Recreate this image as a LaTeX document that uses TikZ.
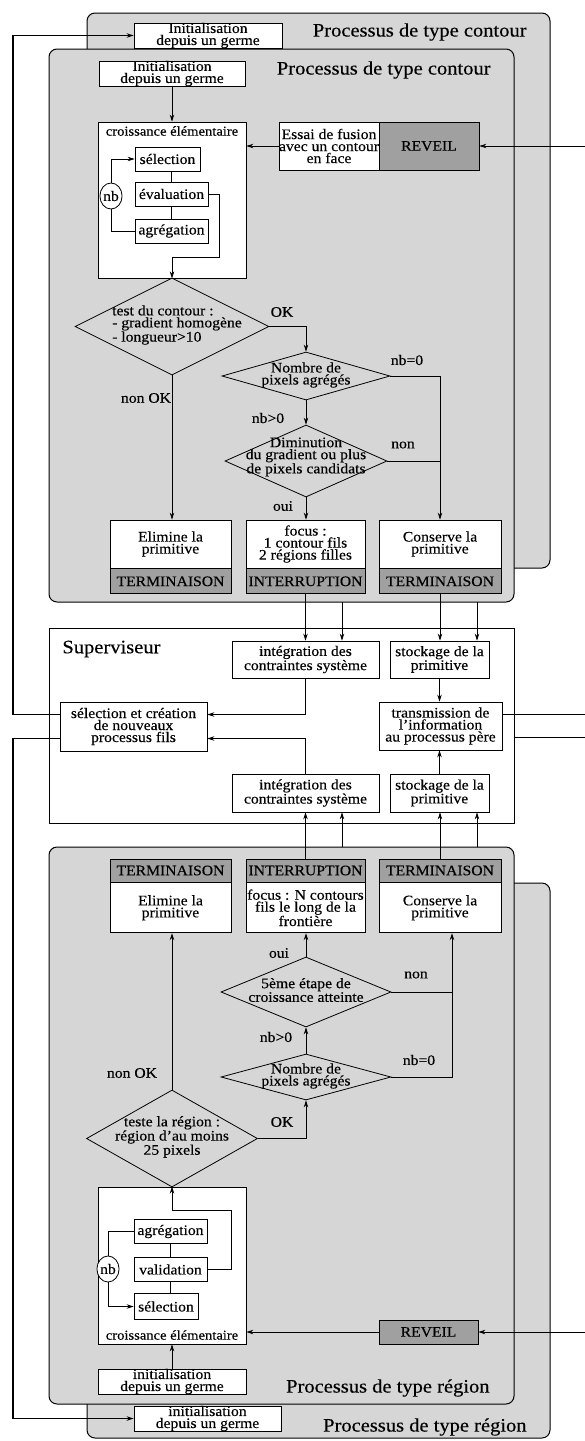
\documentclass[tikz,border=0pt]{standalone}
\usepackage{fontspec}
\setmainfont{Liberation Serif}[FakeStretch=1.08, FakeBold=0.3]
\usepackage{tikz}
\usetikzlibrary{shapes.geometric, arrows.meta, positioning, calc}
\definecolor{fondpanneau}{HTML}{D6D6D6}
\definecolor{fondsombre}{HTML}{A0A0A0}
\newcommand{\policeboite}{\fontsize{14.5}{12}\selectfont}
\newcommand{\policetitre}{\fontsize{19}{22}\selectfont}

\begin{document}
\begin{tikzpicture}[x=1pt, y=-1pt, line width=0.8pt,
    panneau/.style={draw, fill=fondpanneau, rounded corners=8pt, line width=1pt},
    boite/.style={draw, fill=white, font=\policeboite, align=center, inner sep=0pt},
    bande/.style={boite, fill=fondsombre},
    losange/.style={diamond, draw, inner sep=0pt},
    texte/.style={font=\policeboite, align=center, inner sep=0pt},
    titre/.style={font=\policetitre, inner sep=0pt, anchor=east},
    compteur/.style={ellipse, draw, fill=white, inner sep=0pt, minimum width=19, minimum height=26, font=\policeboite},
    fleche/.style={-{Stealth[length=7pt,width=4.5pt]}}]
    \useasboundingbox (0,0) rectangle (585,1441);

    % Processus contour (arriere-plan)
    \draw[panneau] (87,13) rectangle (550,568);
    \node[boite, minimum width=148, minimum height=25] (initArC) at (208,35.5) {Initialisation\\depuis un germe};
    \node[titre] (titreArC) at (527,32) {Processus de type contour};

    % Processus contour
    \draw[panneau] (49,49) rectangle (514,602);
    \node[titre] (titreC) at (491,70) {Processus de type contour};
    \node[boite, minimum width=146, minimum height=25] (initC) at (172,73.5) {Initialisation\\depuis un germe};
    \node[boite, minimum width=148, minimum height=156] (croisC) at (172,200) {};
    \node[texte, font=\fontsize{13.5}{13}\selectfont] (nomCroisC) at (172,131) {croissance élémentaire};
    \node[boite, minimum width=65, minimum height=24] (selC) at (167.5,159) {sélection};
    \node[boite, minimum width=73, minimum height=24] (evalC) at (171.5,194) {évaluation};
    \node[boite, minimum width=73, minimum height=24] (aggC) at (171.5,231) {agrégation};
    \node[compteur] (nbC) at (111,196) {nb};
    \node[boite, minimum width=100, minimum height=48] (essaiC) at (329,146) {Essai de fusion\\avec un contour\\en face};
    \node[bande, minimum width=100, minimum height=48] (reveilC) at (429,146) {REVEIL};

    \draw[fleche] (initC.south) -- (croisC.north);
    \draw[fleche] (nbC.north) |- (selC.west);
    \draw (nbC.south) |- (aggC.west);
    \draw (evalC.north) -- (evalC.north |- selC.south);
    \draw (evalC.south) -- (aggC.north);
    \coordinate (retourC) at (219,257);
    \draw[fleche] (evalC.east) -| (retourC) -| (croisC.south);
    \coordinate (entreeC) at (585,146);
    \draw[fleche] (entreeC) -- (reveilC.east);
    \draw[fleche] (essaiC.west) -- (essaiC.west -| croisC.east);

    % Tests
    \node[losange, minimum width=194, minimum height=97] (testC) at (172,326.5) {};
    \node[texte, align=left] (txtTestC) at (177,325) {test du contour :\\- gradient homogène\\- longueur>10};
    \node[losange, minimum width=168, minimum height=48] (nbAggC) at (306,376) {};
    \node[texte] (txtNbAggC) at (306,375) {Nombre de\\pixels agrégés};
    \node[losange, minimum width=162, minimum height=72] (dimC) at (306,461) {};
    \node[texte] (txtDimC) at (306,457) {Diminution\\du gradient ou plus\\de pixels candidats};
    \node[texte] (okC) at (282,312) {OK};
    \node[texte] (nonOkC) at (146,398) {non OK};
    \node[texte] (nbZeroC) at (407,360) {nb=0};
    \node[texte] (nbPosC) at (268,418) {nb>0};
    \node[texte] (nonC) at (403,445) {non};
    \node[texte] (ouiC) at (283,506) {oui};

    % Issues
    \node[boite, minimum width=121, minimum height=48] (elimC) at (170.5,544) {Elimine la\\primitive};
    \node[bande, minimum width=121, minimum height=25, anchor=north] (termC1) at (elimC.south) {TERMINAISON};
    \node[boite, minimum width=119, minimum height=48] (focusC) at (305.5,544) {focus :\\1 contour fils\\2 régions filles};
    \node[bande, minimum width=119, minimum height=25, anchor=north] (interC) at (focusC.south) {INTERRUPTION};
    \node[boite, minimum width=122, minimum height=48] (consC) at (440,544) {Conserve la\\primitive};
    \node[bande, minimum width=122, minimum height=25, anchor=north] (termC2) at (consC.south) {TERMINAISON};

    \draw[fleche] (testC.south) -- (testC.south |- elimC.north);
    \draw[fleche] (testC.east) -| (nbAggC.north);
    \draw[fleche] (nbAggC.south) -- (dimC.north);
    \draw[fleche] (dimC.south) -- (dimC.south |- focusC.north);
    \draw[fleche] (nbAggC.east) -| (consC.north);
    \draw (dimC.east) -- (dimC.east -| consC.north);

    % Superviseur
    \node[draw, fill=white, minimum width=465, minimum height=195, inner sep=0pt] (superv) at (281.5,725.5) {};
    \node[font=\policetitre, inner sep=0pt, anchor=west] (nomSuperv) at (62,649) {Superviseur};
    \node[boite, minimum width=147, minimum height=37] (integC) at (305.5,659.5) {intégration des\\contraintes système};
    \node[boite, minimum width=99, minimum height=37] (stockC) at (439.5,659.5) {stockage de la\\primitive};
    \node[boite, minimum width=147, minimum height=49] (selCrea) at (133.5,726.5) {sélection et création\\de nouveaux\\processus fils};
    \node[boite, minimum width=123, minimum height=48] (transm) at (440.5,726) {transmission de\\l'information\\au processus père};
    \node[boite, minimum width=147, minimum height=38] (integR) at (305.5,793) {intégration des\\contraintes système};
    \node[boite, minimum width=99, minimum height=38] (stockR) at (439.5,793) {stockage de la\\primitive};

    \coordinate (sortieC1) at (342,602);
    \coordinate (sortieC2) at (477,602);
    \draw[fleche] (interC.south) -- (interC.south |- integC.north);
    \draw[fleche] (sortieC1) -- (sortieC1 |- integC.north);
    \draw[fleche] (termC2.south) -- (termC2.south |- stockC.north);
    \draw[fleche] (sortieC2) -- (sortieC2 |- stockC.north);
    \draw[fleche] (integC.south) |- ($(selCrea.east)+(0,-12)$);
    \draw[fleche] (integR.north) |- ($(selCrea.east)+(0,12)$);
    \draw[fleche] (stockC.south) -- (stockC.south |- transm.north);
    \draw[fleche] (stockR.north) -- (stockR.north |- transm.south);
    \coordinate (bordD1) at (585,714);
    \coordinate (bordD2) at (585,737);
    \draw ($(transm.east)+(0,-12)$) -- (bordD1);
    \draw (superv.east |- bordD2) -- (bordD2);

    % Processus region (arriere-plan)
    \draw[panneau] (87,883) rectangle (550,1438);
    \node[boite, minimum width=147, minimum height=23] (initArR) at (207.5,1418.5) {initialisation\\depuis un germe};
    \node[titre] (titreArR) at (527,1427) {Processus de type région};

    % Processus region
    \draw[panneau] (49,847) rectangle (514,1404);
    \node[titre] (titreR) at (490,1388) {Processus de type région};
    \node[bande, minimum width=121, minimum height=23] (termR1) at (170.5,870.5) {TERMINAISON};
    \node[boite, minimum width=121, minimum height=50, anchor=north] (elimR) at (termR1.south) {Elimine la\\primitive};
    \node[bande, minimum width=119, minimum height=23] (interR) at (305.5,870.5) {INTERRUPTION};
    \node[boite, minimum width=119, minimum height=50, anchor=north] (focusR) at (interR.south) {focus : N contours\\fils le long de la\\frontière};
    \node[bande, minimum width=122, minimum height=23] (termR2) at (440,870.5) {TERMINAISON};
    \node[boite, minimum width=122, minimum height=50, anchor=north] (consR) at (termR2.south) {Conserve la\\primitive};

    \coordinate (sortieR1) at (342,847);
    \coordinate (sortieR2) at (477,847);
    \draw[fleche] (interR.north) -- (interR.north |- integR.south);
    \draw[fleche] (sortieR1) -- (sortieR1 |- integR.south);
    \draw[fleche] (termR2.north) -- (termR2.north |- stockR.south);
    \draw[fleche] (sortieR2) -- (sortieR2 |- stockR.south);

    % Tests
    \node[losange, minimum width=170, minimum height=70] (cinqR) at (306,992) {};
    \node[texte] (txtCinqR) at (306,990) {5ème étape de\\croissance atteinte};
    \node[losange, minimum width=170, minimum height=46] (nbAggR) at (306,1077) {};
    \node[texte] (txtNbAggR) at (306,1076) {Nombre de\\pixels agrégés};
    \node[losange, minimum width=171, minimum height=97] (testR) at (172,1138.5) {};
    \node[texte] (txtTestR) at (172,1137) {teste la région :\\région d'au moins\\25 pixels};
    \node[texte] (nonR) at (416,975) {non};
    \node[texte] (ouiR) at (279,953) {oui};
    \node[texte] (nbPosR) at (276,1037) {nb>0};
    \node[texte] (nbZeroR) at (419,1060) {nb=0};
    \node[texte] (nonOkR) at (132,1073) {non OK};
    \node[texte] (okR) at (282,1122) {OK};

    \coordinate (montR) at ($(consR.south)+(12,0)$);
    \draw (cinqR.east) -- (cinqR.east -| montR);
    \draw[fleche] (nbAggR.east) -| (montR);
    \draw[fleche] (nbAggR.north) -- (cinqR.south);
    \draw[fleche] (cinqR.north) -- (cinqR.north |- focusR.south);
    \draw[fleche] (testR.north) -- (testR.north |- elimR.south);
    \draw[fleche] (testR.east) -| (nbAggR.south);

    % Croissance
    \node[boite, minimum width=148, minimum height=157] (croisR) at (172,1265.5) {};
    \node[texte, font=\fontsize{13.5}{13}\selectfont] (nomCroisR) at (172,1335) {croissance élémentaire};
    \node[boite, minimum width=73, minimum height=24] (aggR) at (170.5,1231.5) {agrégation};
    \node[boite, minimum width=73, minimum height=24] (valR) at (170.5,1269.5) {validation};
    \node[boite, minimum width=64, minimum height=26] (selR) at (166,1306.5) {sélection};
    \node[compteur] (nbR) at (108,1269) {nb};
    \node[bande, minimum width=99, minimum height=24] (reveilR) at (428.5,1332) {REVEIL};
    \node[boite, minimum width=148, minimum height=25] (initR) at (172,1381.5) {initialisation\\depuis un germe};

    \draw (nbR.north) |- (aggR.west);
    \draw[fleche] (nbR.south) |- (selR.west);
    \draw (aggR.south) -- (valR.north);
    \draw (valR.south) -- (valR.south |- selR.north);
    \coordinate (retourR) at (231,1210);
    \draw[fleche] (valR.east) -| (retourR) -| (croisR.north);
    \coordinate (entreeR) at (585,1332);
    \draw[fleche] (entreeR) -- (reveilR.east);
    \draw[fleche] (reveilR.west) -- (reveilR.west -| croisR.east);
    \draw[fleche] (initR.north) -- (croisR.south);

    % Liaisons vers les processus fils
    \coordinate (railG) at (13,0);
    \draw[fleche, line width=1.2pt] ($(selCrea.west)+(0,-12)$) -| (railG |- initArC.west) -- (initArC.west);
    \draw[fleche, line width=1.2pt] ($(selCrea.west)+(0,12)$) -| (railG |- initArR.west) -- (initArR.west);
\end{tikzpicture}
\end{document}
